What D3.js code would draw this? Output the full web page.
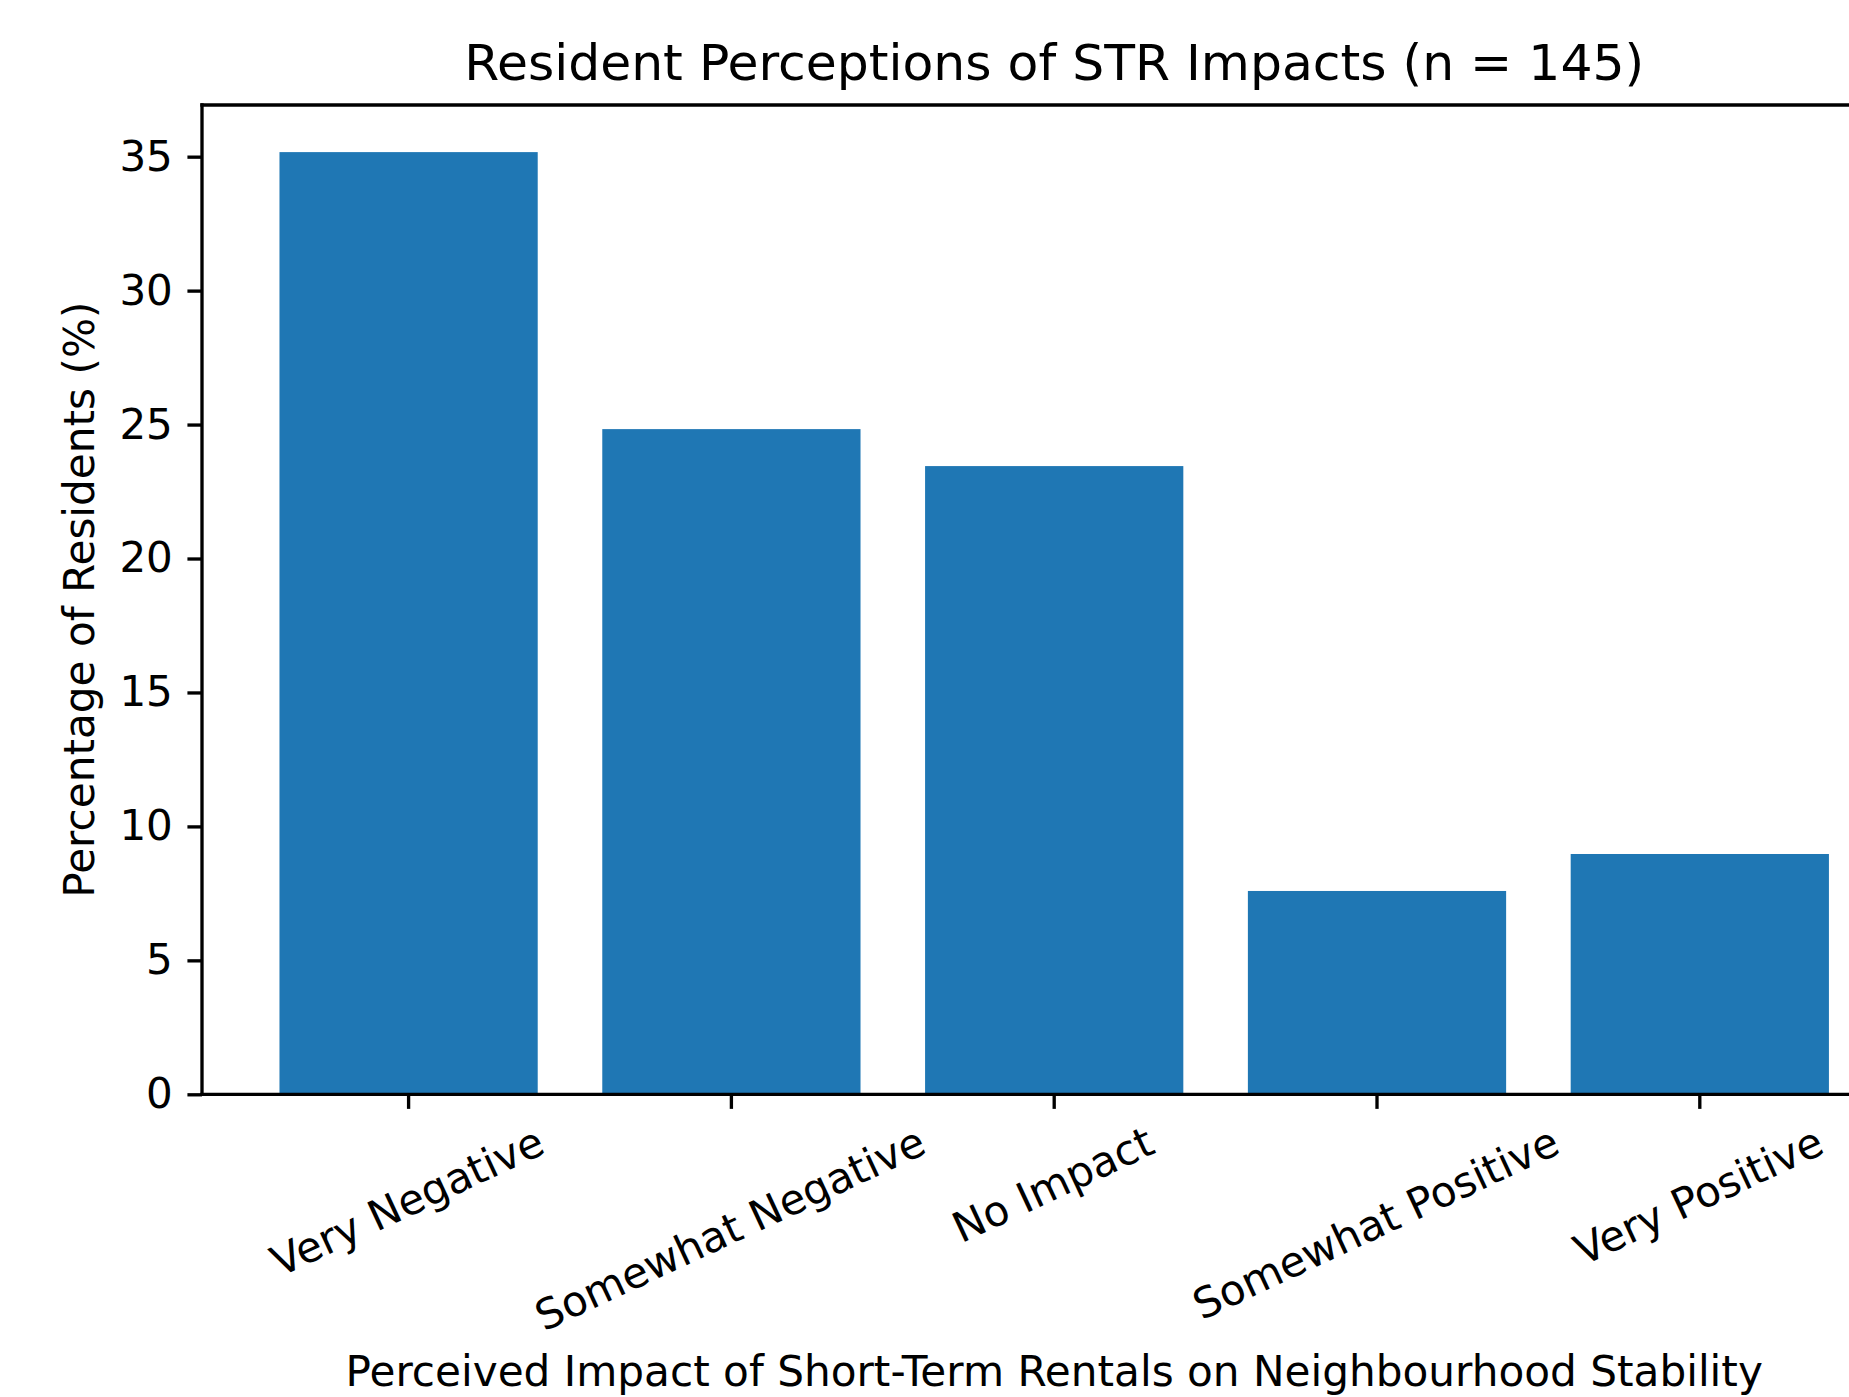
<!DOCTYPE html>
<html>
<head>
<meta charset="utf-8">
<script src="https://cdn.jsdelivr.net/npm/d3@7"></script>
<style>
  html, body { margin: 0; padding: 0; background: #ffffff; }
  svg { display: block; }
  text { font-family: "DejaVu Sans", sans-serif; fill: #000; }
</style>
</head>
<body>
<svg id="chart" width="1849" height="1397"></svg>
<script>
// ---- data ----
const categories = ["Very Negative", "Somewhat Negative", "No Impact", "Somewhat Positive", "Very Positive"];
const percentages = [35.17, 24.83, 23.45, 7.59, 8.97];
const yTickValues = [0, 5, 10, 15, 20, 25, 30, 35];
const titleText = "Resident Perceptions of STR Impacts (n = 145)";
const xLabelText = "Perceived Impact of Short-Term Rentals on Neighbourhood Stability";
const yLabelText = "Percentage of Residents (%)";

// ---- layout (matplotlib-like at 300 dpi) ----
const W = 1849, H = 1397;
const axLeft = 202, axRight = 1906.4, axTop = 105, axBottom = 1094.3;
const tickFs = 42.0, titleFs = 50.4, labelFs = 42.2;
const tickLen = 14.58, tickPad = 14.58, lw = 3.33;
const barColor = "#1f77b4";
const rot = 25;

const svg = d3.select("#chart");
svg.append("rect").attr("width", W).attr("height", H).attr("fill", "#fff");

const x = d3.scaleBand().domain(categories).range([axLeft, axRight])
  .paddingInner(0.2).paddingOuter(0.24);
const y = d3.scaleLinear().domain([0, d3.max(percentages) * 1.05]).range([axBottom, axTop]);

// bars
svg.append("g").selectAll("rect").data(categories).join("rect")
  .attr("x", d => x(d))
  .attr("width", x.bandwidth())
  .attr("y", (d, i) => y(percentages[i]))
  .attr("height", (d, i) => y(0) - y(percentages[i]))
  .attr("fill", barColor);

// y axis
const yAxis = svg.append("g").attr("transform", `translate(${axLeft},0)`)
  .call(d3.axisLeft(y).tickValues(yTickValues).tickFormat(d3.format("d"))
    .tickSize(tickLen).tickPadding(tickPad).tickSizeOuter(0));
yAxis.select(".domain").remove();
yAxis.selectAll(".tick line").attr("stroke", "#000").attr("stroke-width", lw);
yAxis.selectAll(".tick text").attr("font-size", tickFs).attr("font-family", "DejaVu Sans").attr("fill", "#000");

// x axis
const xAxis = svg.append("g").attr("transform", `translate(0,${axBottom})`)
  .call(d3.axisBottom(x).tickSize(tickLen).tickPadding(tickPad).tickSizeOuter(0));
xAxis.select(".domain").remove();
xAxis.selectAll(".tick line").attr("stroke", "#000").attr("stroke-width", lw);
const s = Math.sin(rot * Math.PI / 180), c = Math.cos(rot * Math.PI / 180);
xAxis.selectAll(".tick text")
  .attr("font-size", tickFs).attr("font-family", "DejaVu Sans").attr("fill", "#000")
  .attr("text-anchor", "middle")
  .attr("x", 0).attr("y", 0).attr("dy", (0.276 * tickFs) + "px")
  .each(function () {
    const w = this.getComputedTextLength();
    const cy = tickLen + tickPad + (w * s + 0.968 * tickFs * c) / 2;
    d3.select(this).attr("transform", `translate(0,${cy}) rotate(${-rot})`);
  });

// spines
const spines = svg.append("g").attr("stroke", "#000").attr("stroke-width", lw).attr("stroke-linecap", "square");
spines.append("line").attr("x1", axLeft).attr("x2", axRight).attr("y1", axBottom).attr("y2", axBottom);
spines.append("line").attr("x1", axLeft).attr("x2", axRight).attr("y1", axTop).attr("y2", axTop);
spines.append("line").attr("x1", axLeft).attr("x2", axLeft).attr("y1", axTop).attr("y2", axBottom);
spines.append("line").attr("x1", axRight).attr("x2", axRight).attr("y1", axTop).attr("y2", axBottom);

// title
svg.append("text").attr("x", (axLeft + axRight) / 2).attr("y", axTop - 25)
  .attr("text-anchor", "middle").attr("font-size", titleFs).text(titleText);

// x label
svg.append("text").attr("x", (axLeft + axRight) / 2).attr("y", 1386)
  .attr("text-anchor", "middle").attr("font-size", labelFs).text(xLabelText);

// y label
svg.append("text").attr("transform", `translate(94,${(axTop + axBottom) / 2}) rotate(-90)`)
  .attr("text-anchor", "middle").attr("font-size", labelFs).text(yLabelText);
</script>
</body>
</html>
